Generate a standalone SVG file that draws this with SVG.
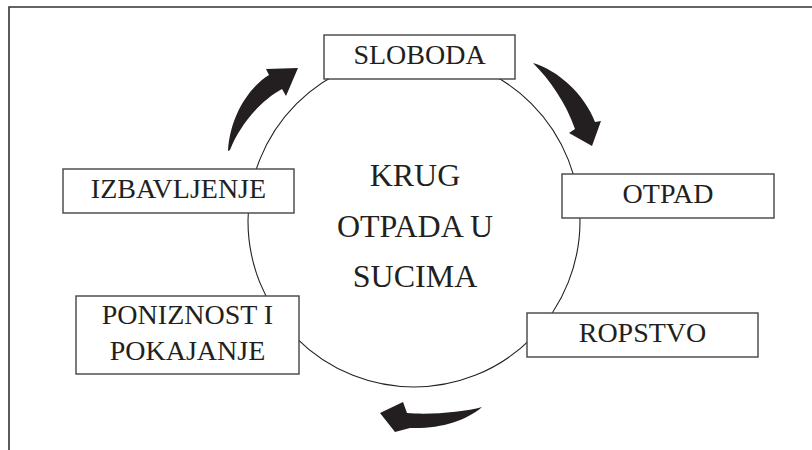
<svg xmlns="http://www.w3.org/2000/svg" width="812" height="450" viewBox="0 0 812 450">
  <style>
    .frame { fill: none; stroke: #333; stroke-width: 1.6; }
    .ring { fill: none; stroke: #222; stroke-width: 1.1; }
    .box { fill: #fff; stroke: #444; stroke-width: 1.4; }
    .lbl { font-family: "Liberation Serif", "Times New Roman", serif; font-size: 28px; fill: #231f20; text-anchor: middle; }
    .ctr { font-family: "Liberation Serif", "Times New Roman", serif; font-size: 32px; fill: #231f20; text-anchor: middle; }
    .arrow { fill: #231f20; stroke: none; }
  </style>
  <rect width="812" height="450" fill="#fff"/>
  <path class="frame" d="M9,450 L9,7 L812,7"/>
  <g id="cycle">
    <circle class="ring" cx="414" cy="221" r="166"/>
    <text class="ctr" x="415" y="186">KRUG</text>
    <text class="ctr" x="415" y="237">OTPADA U</text>
    <text class="ctr" x="415" y="287">SUCIMA</text>
  </g>
  <g id="connectors">
    <path class="arrow" d="M228,151 C230,117 248,88 269,75 L266,69 L298,68 L286,96 L282,89 C260,101 240,125 230,150 Z"/>
    <path class="arrow" d="M533,63 C558,70 585,95 595,122 L601,121 L592,146 L569,133 L575,129 C566,103 550,80 533,63 Z"/>
    <path class="arrow" d="M482,407 C465,412 430,415 407,413 L403,402 L380,413 L395,432 L410,428 C440,429 466,421 482,407 Z"/>
  </g>
  <g id="sloboda">
    <rect class="box" x="324" y="35" width="191" height="44"/>
    <text class="lbl" x="419.5" y="64">SLOBODA</text>
  </g>
  <g id="otpad">
    <rect class="box" x="562" y="174" width="212" height="44"/>
    <text class="lbl" x="668" y="203">OTPAD</text>
  </g>
  <g id="ropstvo">
    <rect class="box" x="527" y="313" width="231" height="44"/>
    <text class="lbl" x="642.5" y="342">ROPSTVO</text>
  </g>
  <g id="poniznost">
    <rect class="box" x="76" y="296" width="223" height="78"/>
    <text class="lbl" x="187.5" y="324">PONIZNOST I</text>
    <text class="lbl" x="187.5" y="360">POKAJANJE</text>
  </g>
  <g id="izbavljenje">
    <rect class="box" x="63" y="169" width="231" height="44"/>
    <text class="lbl" x="178.5" y="198">IZBAVLJENJE</text>
  </g>
</svg>
